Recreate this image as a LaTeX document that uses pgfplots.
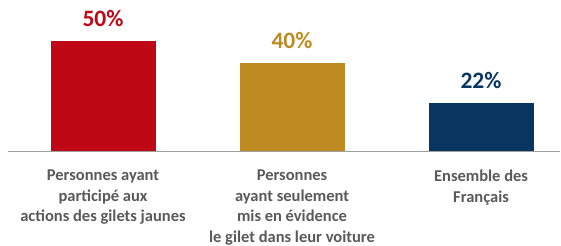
\documentclass[border=0pt]{standalone}
\usepackage{fontspec}
\setmainfont{Carlito}
\usepackage{pgfplots}
\pgfplotsset{compat=1.18}
\definecolor{cred}{RGB}{190,8,21}
\definecolor{cgold}{RGB}{190,139,35}
\definecolor{cnavy}{RGB}{9,53,97}
\definecolor{labgray}{RGB}{89,89,89}
\definecolor{basegray}{RGB}{160,160,160}
\begin{document}
\begin{tikzpicture}
\begin{axis}[
  scale only axis, width=561pt, height=243pt,
  xmin=-0.545, xmax=2.423, ymin=-40.88, ymax=68.28,
  enlargelimits=false, clip=false,
  axis x line=middle, axis y line=none,
  x axis line style={draw=none},
  ybar, bar width=105pt, bar shift=0pt,
  xtick={0,1,2},
  xticklabels={{Personnes ayant\\participé aux\\actions des gilets jaunes},
               {Personnes\\ayant seulement\\mis en évidence\\le gilet dans leur voiture},
               {Ensemble des\\Français}},
  major tick length=0pt,
  xticklabel style={font=\bfseries\fontsize{16.5}{20.5}\selectfont, text=labgray,
    align=center, anchor=north, inner sep=0pt, yshift=-18pt},
  point meta=explicit symbolic,
  nodes near coords={\pgfplotspointmeta\%},
  nodes near coords style={font=\bfseries\fontsize{23.5}{27}\selectfont, anchor=south, inner sep=0pt, yshift=14pt},
]
\path (rel axis cs:0,0) rectangle (rel axis cs:1,1);
\addplot[fill=cred, draw=none, nodes near coords style={text=cred}] coordinates {(0,50) [50]};
\addplot[fill=cgold, draw=none, nodes near coords style={text=cgold}] coordinates {(1,40) [40]};
\addplot[fill=cnavy, draw=none, nodes near coords style={text=cnavy}] coordinates {(2,22) [22]};
\draw[basegray, line width=1pt] (axis cs:-0.503,0) -- (axis cs:2.418,0);
\end{axis}
\end{tikzpicture}
\end{document}
